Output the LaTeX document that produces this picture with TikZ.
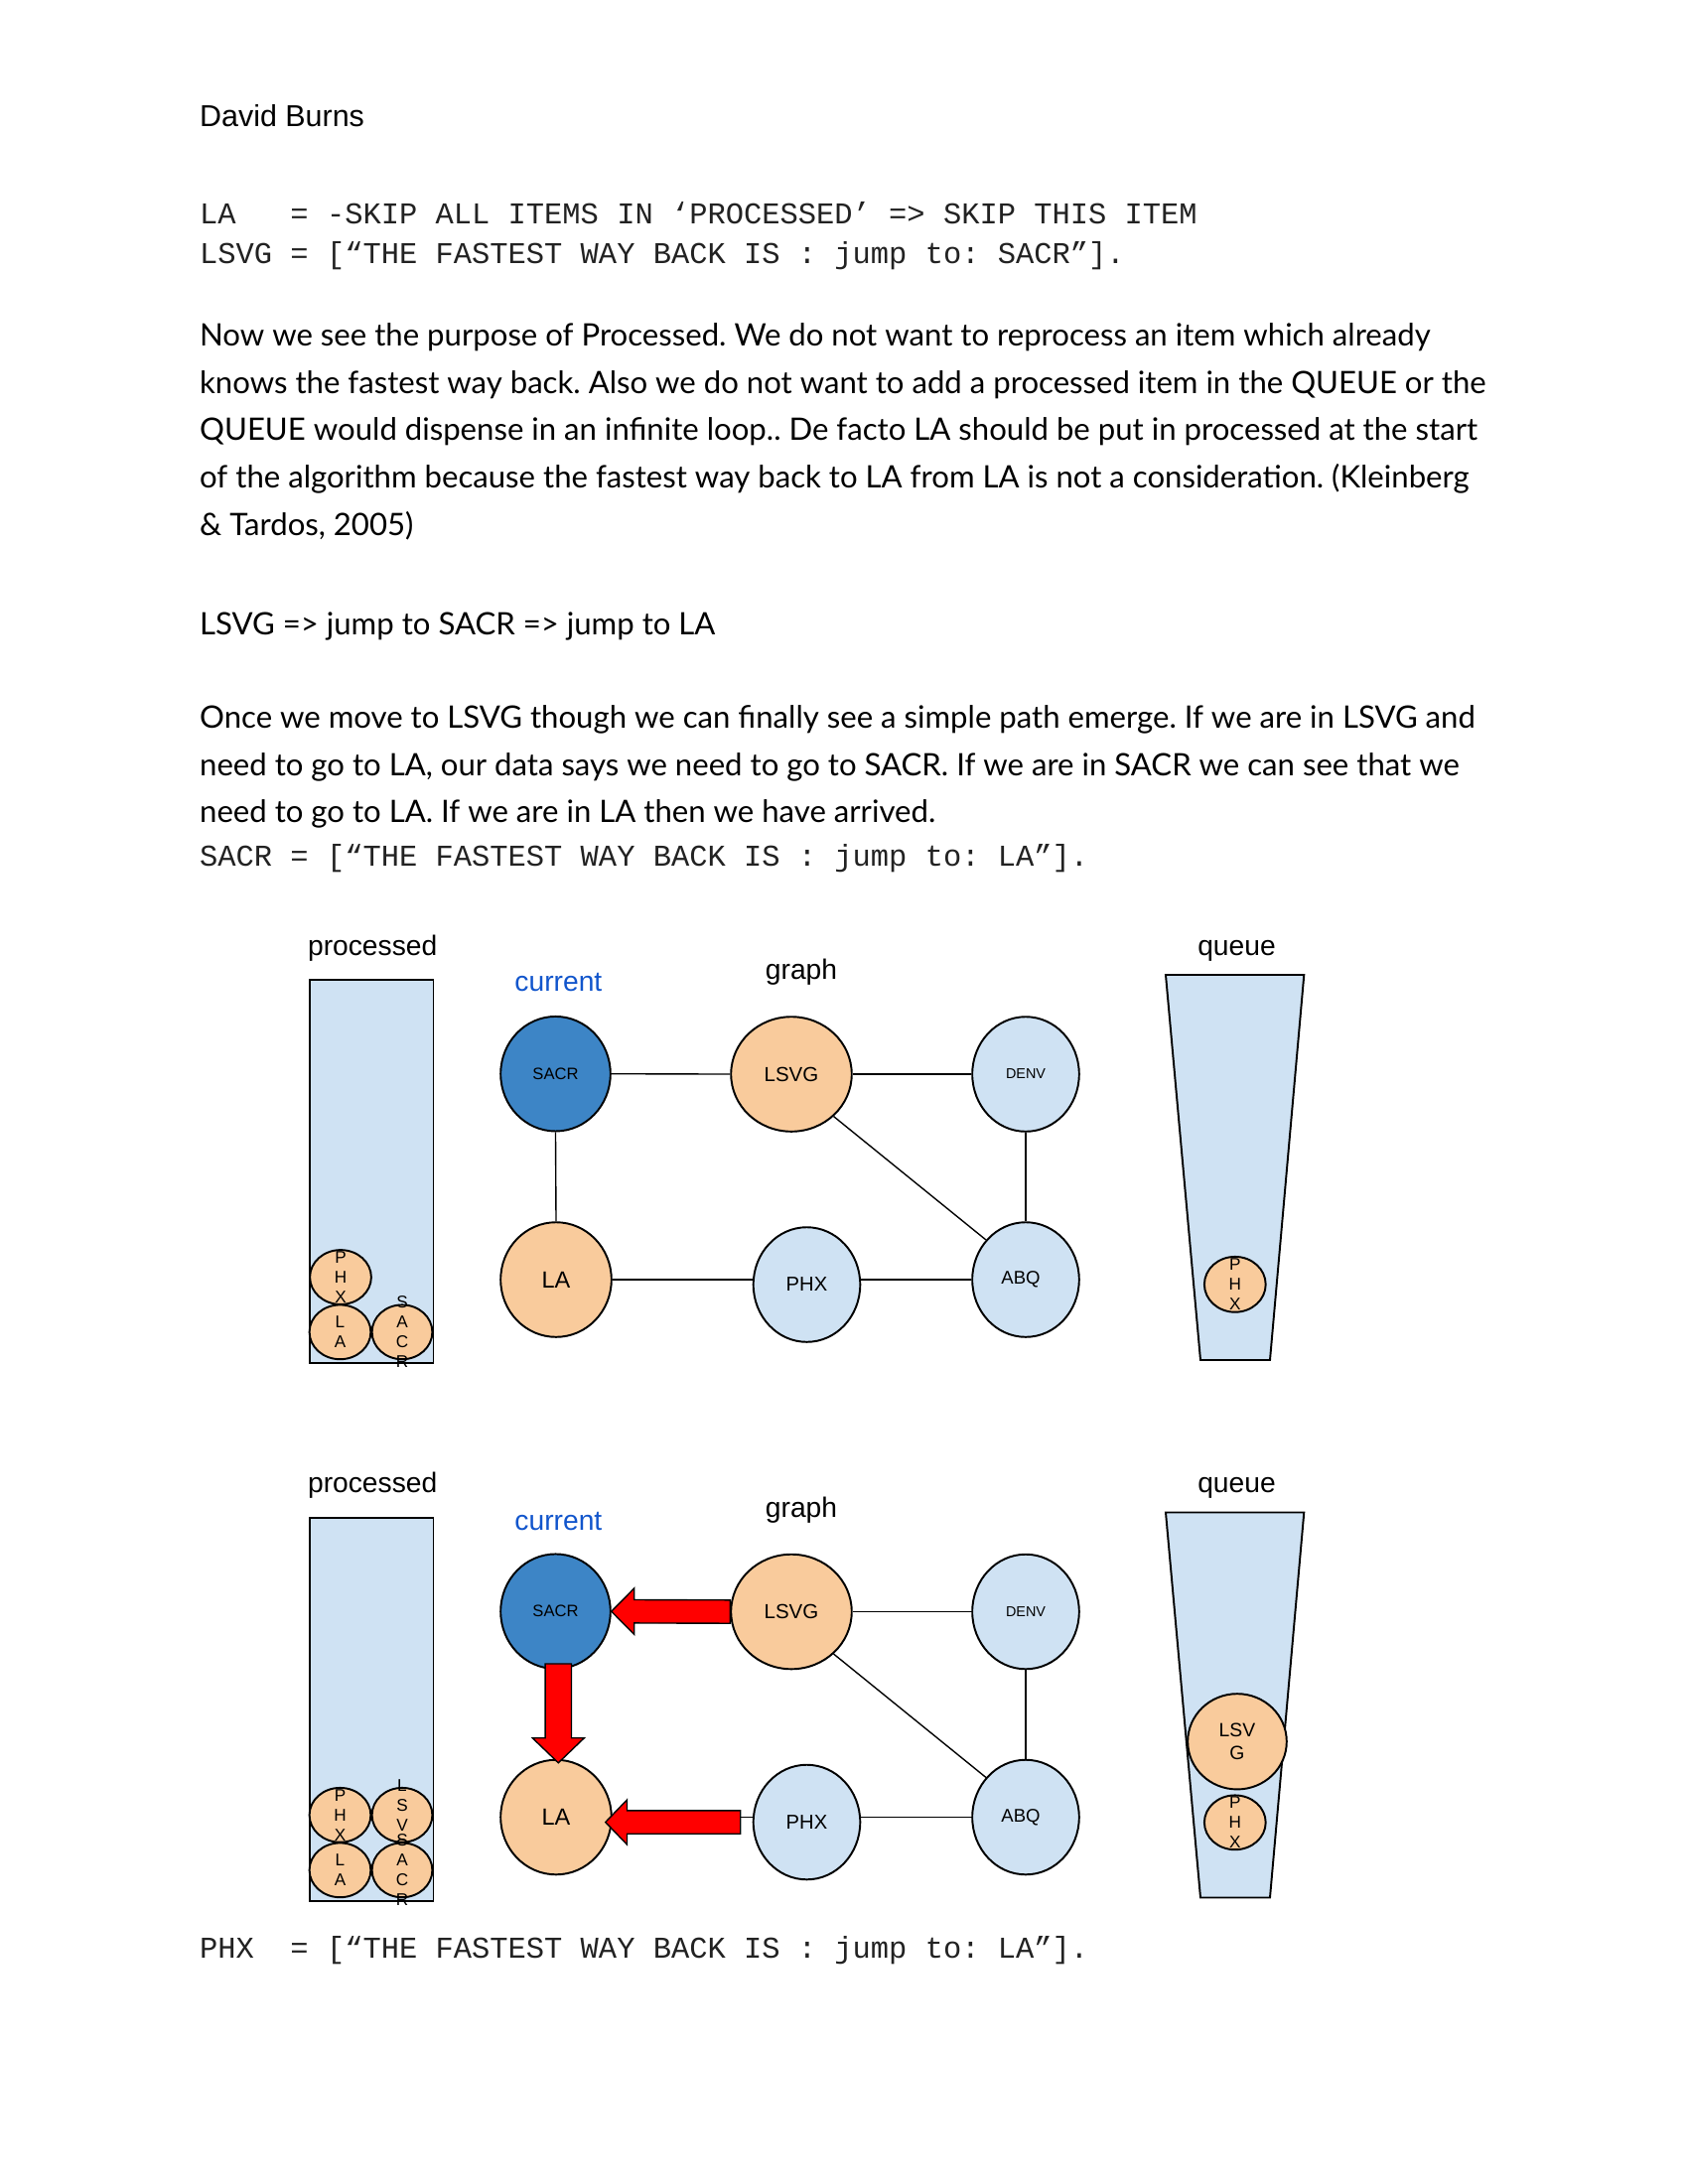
\documentclass[tikz,border=0pt]{standalone}
\usepackage{fontspec}
\usetikzlibrary{shapes.geometric,calc}
\newfontfamily\arialf{Liberation Sans}
\newfontfamily\monof{Liberation Mono}
\newfontfamily\bodyf{Lato}
\definecolor{orng}{HTML}{F9CB9C}
\definecolor{lblue}{HTML}{CFE2F3}
\definecolor{dblue}{HTML}{3D85C6}
\definecolor{curblue}{HTML}{1155CC}
\definecolor{monogray}{HTML}{222222}
\newlength\refw
\newcommand\afs[1]{\arialf\fontsize{#1pt}{#1pt}\selectfont}
\newcommand\bodyfont{\bodyf\fontsize{\bodysize pt}{\bodysize pt}\selectfont\frenchspacing}
\begin{document}
\frenchspacing
\settowidth{\refw}{\bodyf\fontsize{10pt}{12pt}\selectfont\frenchspacing Now we see the purpose of Processed. We do not want to reprocess an item which already}%
\pgfmathsetmacro{\bodysize}{10*447.84/\refw}%
\begin{tikzpicture}[x=0.127mm,y=-0.127mm,
  city/.style={ellipse, draw=black, line width=0.7pt, inner sep=0pt},
  sz/.style 2 args={minimum width=#1*0.36pt, minimum height=#2*0.36pt},
  edge/.style={line width=0.5pt},
  blockarrow/.style={fill=red, draw=black, line width=0.5pt, line join=miter},
  body/.style={anchor=base west, inner sep=0pt, font=\bodyfont},
  mono/.style={anchor=base west, inner sep=0pt, text=monogray, font=\monof\fontsize{11pt}{13pt}\selectfont\frenchspacing},
  title/.style={anchor=base, inner sep=0pt, font=\afs{10.2}},
  stack/.style={font=\arialf\fontsize{6.2pt}{7.2pt}\selectfont, align=center, inner sep=0pt},
  box/.style={draw=black, fill=lblue, line width=0.7pt, inner sep=0pt}]
\fill[white] (0,0) rectangle (1700,2200);
\useasboundingbox (0,0) rectangle (1700,2200);

% ---------- text ----------
\node[anchor=base west, inner sep=0pt, font=\afs{11}] (author) at (200.6,127.6) {David Burns};
\node[mono] (m1) at (200.6,225.8) {LA\ \ \ = -SKIP ALL ITEMS IN ‘PROCESSED’ => SKIP THIS ITEM};
\node[mono] (m2) at (200.6,265) {LSVG = [“THE FASTEST WAY BACK IS : jump to: SACR”].};
\node[body] (p1) at (200.6,348.3) {Now we see the purpose of Processed. We do not want to reprocess an item which already};
\node[body] (p2) at (200.6,396) {knows the fastest way back. Also we do not want to add a processed item in the QUEUE or the};
\node[body] (p3) at (200.6,443.7) {QUEUE would dispense in an infinite loop.. De facto LA should be put in processed at the start};
\node[body] (p4) at (200.6,491.4) {of the algorithm because the fastest way back to LA from LA is not a consideration. (Kleinberg};
\node[body] (p5) at (200.6,539.1) {\& Tardos, 2005)};
\node[body] (p6) at (200.6,639.3) {LSVG => jump to SACR => jump to LA};
\node[body] (p7) at (200.6,733.5) {Once we move to LSVG though we can finally see a simple path emerge. If we are in LSVG and};
\node[body] (p8) at (200.6,781.2) {need to go to LA, our data says we need to go to SACR. If we are in SACR we can see that we};
\node[body] (p9) at (200.6,828.9) {need to go to LA. If we are in LA then we have arrived.};
\node[mono] (m3) at (200.6,872.3) {SACR = [“THE FASTEST WAY BACK IS : jump to: LA”].};
\node[mono] (m4) at (200.6,1972) {PHX\ \ = [“THE FASTEST WAY BACK IS : jump to: LA”].};

% ---------- panel A ----------
\node[title] (procAlbl) at (375.2,962) {processed};
\node[title, text=curblue] (curA) at (562.4,998.6) {current};
\node[title] (graphA) at (807,986.5) {graph};
\node[title] (queueA) at (1245.5,962) {queue};
\node[box, minimum width=125*0.36pt, minimum height=387.3*0.36pt] (procA) at (374.2,1180.35) {};
\draw[box] (1174,982) -- (1313.3,982) -- (1279,1370) -- (1209,1370) -- cycle;

\node[city, fill=orng, sz={62}{55}, label={[stack]center:P\\H\\X}] (pphxA) at (343,1286.5) {};
\node[city, fill=orng, sz={62}{55}, label={[stack]center:L\\A}] (plaA) at (342.5,1341.8) {};
\node[city, fill=orng, sz={61}{55}, label={[stack]center:S\\A\\C\\R}] (psacrA) at (405,1341.8) {};
\node[city, fill=orng, sz={62}{56}, label={[stack]center:P\\H\\X}] (qphxA) at (1243.8,1293.8) {};

\node[city, fill=dblue, sz={111}{116}, font=\afs{6}] (sacrA) at (559.5,1081.7) {SACR};
\node[city, fill=orng, sz={122}{116}, font=\afs{7.4}] (lsvgA) at (797,1082) {LSVG};
\node[city, fill=lblue, sz={108}{116}, font=\afs{5.2}] (denvA) at (1033,1082) {DENV};
\node[city, fill=orng, sz={112}{116}, font=\afs{8.5}] (laA) at (560,1289) {LA};
\node[city, fill=lblue, sz={108}{116}, font=\afs{7.3}] (phxA) at (812.5,1294) {PHX};
\node[city, fill=lblue, sz={108}{116}, font=\afs{6.7}] (abqA) at (1033,1289) {ABQ\kern3.6pt};

\draw[edge] (sacrA.east) -- (lsvgA.west);
\draw[edge] (lsvgA.east) -- (denvA.west);
\draw[edge] (sacrA.south) -- (laA.north);
\draw[edge] (laA.east) -- (laA.east -| phxA.west);
\draw[edge] (phxA.east |- abqA.west) -- (abqA.west);
\draw[edge] (denvA.south) -- (abqA.north);
\draw[edge] (lsvgA.-45) -- (abqA.135);

% ---------- panel B ----------
\begin{scope}[shift={(0,541.5)}]
\node[title] (procBlbl) at (375.2,962) {processed};
\node[title, text=curblue] (curB) at (562.4,1000) {current};
\node[title] (graphB) at (807,986.5) {graph};
\node[title] (queueB) at (1245.5,962) {queue};
\node[box, minimum width=125*0.36pt, minimum height=387.3*0.36pt] (procB) at (374.2,1180.35) {};
\draw[box] (1174,982) -- (1313.3,982) -- (1279,1370) -- (1209,1370) -- cycle;

\node[city, fill=orng, sz={62}{55}, label={[stack]center:P\\H\\X}] (pphxB) at (342.5,1286.8) {};
\node[city, fill=orng, sz={61}{55}, label={[stack]center:L\\S\\V\\G}] (plsvgB) at (405,1286.8) {};
\node[city, fill=orng, sz={62}{55}, label={[stack]center:L\\A}] (plaB) at (342.5,1342.3) {};
\node[city, fill=orng, sz={61}{55}, label={[stack]center:S\\A\\C\\R}] (psacrB) at (405,1342.3) {};
\node[city, fill=orng, sz={100}{96.6}, font=\arialf\fontsize{7pt}{8.3pt}\selectfont, align=center] (qlsvgB) at (1246,1212.8) {LSV\\G};
\node[city, fill=orng, sz={62}{55}, label={[stack]center:P\\H\\X}] (qphxB) at (1243.8,1294.3) {};

\node[city, fill=dblue, sz={111}{116}, font=\afs{6}] (sacrB) at (559.5,1081.7) {SACR};
\node[city, fill=orng, sz={122}{116}, font=\afs{7.4}] (lsvgB) at (797,1082) {LSVG};
\node[city, fill=lblue, sz={108}{116}, font=\afs{5.2}] (denvB) at (1033,1082) {DENV};
\node[city, fill=orng, sz={112}{116}, font=\afs{8.5}] (laB) at (560,1289) {LA};
\node[city, fill=lblue, sz={108}{116}, font=\afs{7.3}] (phxB) at (812.5,1294) {PHX};
\node[city, fill=lblue, sz={108}{116}, font=\afs{6.7}] (abqB) at (1033,1289) {ABQ\kern3.6pt};
\end{scope}

\draw[edge] (sacrB.east) -- (lsvgB.west);
\draw[edge] (lsvgB.east) -- (denvB.west);
\draw[edge] (sacrB.south) -- (laB.north);
\draw[edge] (laB.east) -- (laB.east -| phxB.west);
\draw[edge] (phxB.east |- abqB.west) -- (abqB.west);
\draw[edge] (denvB.south) -- (abqB.north);
\draw[edge] (lsvgB.-45) -- (abqB.135);

% red block arrows
\coordinate (t1) at (sacrB.east);
\coordinate (s1) at (lsvgB.west);
\draw[blockarrow] ($(s1)+(0,-11.7)$) -- ($(t1)+(23,-11.7)$) -- ($(t1)+(23,-23.3)$) -- (t1)
  -- ($(t1)+(23,23.3)$) -- ($(t1)+(23,11.7)$) -- ($(s1)+(0,11.7)$) -- cycle;

\coordinate (s2) at ($(sacrB.south)+(2.8,-6)$);
\coordinate (t2) at ($(laB.north)+(2.3,4)$);
\draw[blockarrow] ($(s2)+(-13.2,0)$) -- ($(t2)+(-13.2,-25)$) -- ($(t2)+(-26,-25)$) -- (t2)
  -- ($(t2)+(26,-25)$) -- ($(t2)+(13.2,-25)$) -- ($(s2)+(13.2,0)$) -- cycle;

\coordinate (t3) at ($(laB.east)+(-7,5)$);
\coordinate (s3) at ($(phxB.west)+(-12,0)$);
\draw[blockarrow] ($(s3)+(0,-11.7)$) -- ($(t3)+(21.7,-11.7)$) -- ($(t3)+(21.7,-22.5)$) -- (t3)
  -- ($(t3)+(21.7,22.5)$) -- ($(t3)+(21.7,11.7)$) -- ($(s3)+(0,11.7)$) -- cycle;
\end{tikzpicture}
\end{document}
